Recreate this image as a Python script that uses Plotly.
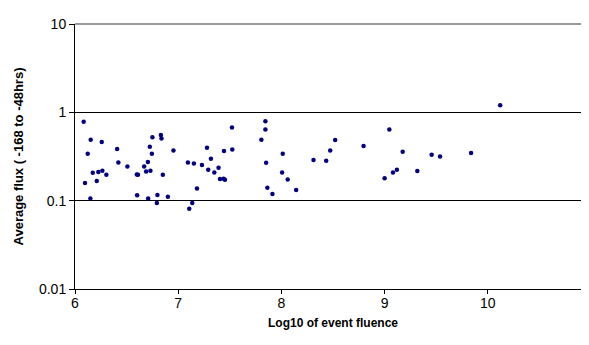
import plotly.graph_objects as go

log_fluence = [6.084, 6.152, 6.259, 6.123, 6.408, 6.097, 6.149, 6.172, 6.226, 6.265,
               6.304, 6.211, 6.420, 6.508, 6.599, 6.602, 6.670, 6.689, 6.706, 6.725,
               6.750, 6.745, 6.731, 6.709, 6.799, 6.793, 6.832, 6.838, 6.851, 6.900,
               6.954, 7.094, 7.152, 7.107, 7.136, 7.182, 7.230, 7.279, 7.291, 7.317,
               7.350, 7.391, 7.405, 7.440, 7.453, 7.444, 7.521, 7.524, 7.806, 7.845,
               7.845, 7.852, 7.864, 7.913, 8.013, 8.007, 8.061, 8.143, 8.311, 8.434,
               8.473, 8.521, 8.796, 9.046, 9.175, 9.000, 9.081, 9.119, 9.317, 9.456,
               9.537, 9.838, 10.12, 6.610]
avg_flux = [0.781, 0.489, 0.461, 0.340, 0.384, 0.158, 0.106, 0.207, 0.211, 0.218,
            0.197, 0.167, 0.271, 0.244, 0.198, 0.115, 0.244, 0.214, 0.274, 0.408,
            0.524, 0.340, 0.218, 0.106, 0.116, 0.0942, 0.553, 0.506, 0.197, 0.111,
            0.370, 0.271, 0.264, 0.0812, 0.0942, 0.137, 0.253, 0.397, 0.224, 0.298,
            0.209, 0.236, 0.176, 0.177, 0.172, 0.364, 0.673, 0.380, 0.489, 0.795,
            0.639, 0.269, 0.140, 0.119, 0.340, 0.209, 0.174, 0.132, 0.288, 0.283,
            0.370, 0.485, 0.415, 0.639, 0.358, 0.179, 0.209, 0.224, 0.217, 0.331,
            0.317, 0.346, 1.206, 0.196]

x_ticks = [6, 7, 8, 9, 10, 11]
y_ticks = [0.01, 0.1, 1, 10]
y_tick_text = ["0.01", "0.1", "1", "10"]

fig = go.Figure()
fig.add_trace(go.Scatter(
    x=log_fluence, y=avg_flux, mode="markers",
    marker=dict(color="#000080", size=4.5, symbol="circle"),
    showlegend=False,
))

font = dict(family="Liberation Sans, Arial, sans-serif", size=14, color="black")
fig.update_layout(
    width=589, height=345,
    margin=dict(l=67, r=6, t=16, b=64),
    paper_bgcolor="white", plot_bgcolor="white",
    font=font,
    xaxis=dict(
        range=[6, 11], tickvals=x_ticks, ticktext=[str(v) for v in x_ticks],
        showgrid=False, zeroline=False,
        showline=True, linecolor="black", linewidth=1,
        ticks="outside", ticklen=4, tickcolor="black", ticklabelstandoff=-3,
        title=dict(text="<b>Log10 of event fluence</b>", font=dict(size=12), standoff=8),
    ),
    yaxis=dict(
        type="log", range=[-2, 1], tickvals=y_ticks, ticktext=y_tick_text,
        showgrid=True, gridcolor="black", gridwidth=1, zeroline=False,
        showline=True, linecolor="black", linewidth=1,
        ticks="outside", ticklen=5, tickcolor="black",
        title=dict(text="<b>Average flux ( -168 to -48hrs)</b>", font=dict(size=13), standoff=12),
    ),
    shapes=[
        dict(type="line", xref="paper", yref="paper", x0=0, x1=1, y0=1, y1=1,
             line=dict(color="#999999", width=2), layer="above"),
        dict(type="line", xref="paper", yref="paper", x0=1, x1=1, y0=0, y1=1,
             line=dict(color="#999999", width=2), layer="above"),
    ],
)

fig.write_html("out.html")
